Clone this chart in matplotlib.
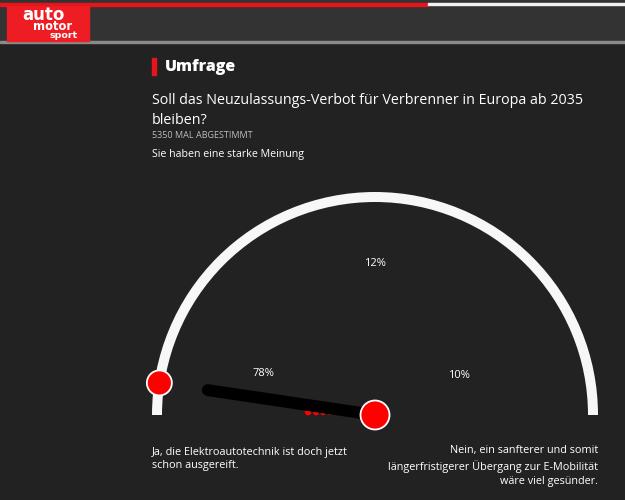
import numpy as np
import matplotlib.pyplot as plt
from matplotlib.patches import Rectangle, Circle, Wedge

plt.rcParams['font.family'] = ['Open Sans', 'DejaVu Sans']

# Daten der Umfrage
frage = "Soll das Neuzulassungs-Verbot für Verbrenner in Europa ab 2035\nbleiben?"
stimmen = 5350
antworten = ["Ja, die Elektroautotechnik ist doch jetzt\nschon ausgereift.",
             "Nein, ein sanfterer und somit\nlängerfristigerer Übergang zur E-Mobilität\nwäre viel gesünder."]
prozente = [78, 12, 10]
meinung = 0.047   # Position des Zeigers (0 = links "Ja", 1 = rechts "Nein")

# Layout (Pixel)
cx, cy = 375, 415
r_aussen = 223
breite_bogen = 10
label_pos = [(263, 373), (375, 264), (459, 376)]

bg = '#222222'
fig = plt.figure(figsize=(6.25, 5), dpi=100, facecolor=bg)
ax = fig.add_axes([0, 0, 1, 1])
ax.set_xlim(0, 625)
ax.set_ylim(500, 0)
ax.axis('off')
ax.set_facecolor(bg)

# Kopfzeile
ax.add_patch(Rectangle((0, 0), 625, 41, color='#333333'))
ax.add_patch(Rectangle((0, 3), 428, 3, color='#e8141c'))
ax.add_patch(Rectangle((428, 3), 197, 2, color='#f2f2f2'))
ax.add_patch(Rectangle((0, 41), 625, 1.5, color='#8a8a8a'))
ax.add_patch(Rectangle((7, 6), 82, 35, color='#ee1d23'))
# Logo: Zeilen eng gestapelt wie im Original
ax.text(65, 20.5, "auto", color='white', fontsize=12, fontweight='bold',
        family='DejaVu Sans', va='baseline', ha='right')
ax.text(72, 30, "motor", color='white', fontsize=8.3, fontweight='bold',
        family='DejaVu Sans', va='baseline', ha='right')
ax.text(78, 37.5, "sport", color='white', fontsize=6.8, fontweight='bold',
        family='DejaVu Sans', va='baseline', ha='right')

# Titel
ax.add_patch(Rectangle((152, 58), 3.5, 17, color='#e8141c'))
ax.text(165, 67, "Umfrage", color='white', fontsize=11.5, fontweight='heavy', va='center')
ax.text(152, 110.5, frage, color='white', fontsize=10.3, va='center', linespacing=1.45)
ax.text(152, 135, f"{stimmen} MAL ABGESTIMMT", color='#bdbdbd', fontsize=6.5, va='center')
ax.text(152, 155, "Sie haben eine starke Meinung", color='white', fontsize=7.7, va='center')

# Bogen
ax.add_patch(Wedge((cx, cy), r_aussen, 180, 360, width=breite_bogen,
                   facecolor='#f7f7f7', edgecolor='none'))

# Prozentwerte
for p, (x, y) in zip(prozente, label_pos):
    ax.text(x, y, f"{p}%", color='white', fontsize=8, ha='center', va='center')

# Zeiger
winkel = np.radians(180 * (1 - meinung))
r_mitte = r_aussen - breite_bogen / 2
zx = cx + 169 * np.cos(winkel)
zy = cy - 169 * np.sin(winkel)
ax.plot([cx, zx], [cy, zy], color='black', lw=8.6, solid_capstyle='round', zorder=3)

# kleine rote Punkte (Spur)
w2 = np.radians(177.5)
for rr, s in zip([67, 59, 52, 45], [2.6, 2.2, 1.8, 1.4]):
    ax.add_patch(Circle((cx + rr * np.cos(w2), cy - rr * np.sin(w2)), s,
                        color='#ff0000', zorder=2))

ax.add_patch(Circle((cx, cy), 14.5, facecolor='#ff0000', edgecolor='white', lw=1.3, zorder=4))
px = cx + r_mitte * np.cos(winkel)
py = cy - r_mitte * np.sin(winkel)
ax.add_patch(Circle((px, py), 12.5, facecolor='#ff0000', edgecolor='white', lw=1.3, zorder=4))

# Antworten
ax.text(152, 459, antworten[0], color='white', fontsize=7.8, ha='left', va='center',
        linespacing=1.35)
ax.text(598, 466, antworten[1], color='white', fontsize=7.8, ha='right', va='center',
        linespacing=1.35, multialignment='right')

fig.savefig('out.png', dpi=100, facecolor=bg)
